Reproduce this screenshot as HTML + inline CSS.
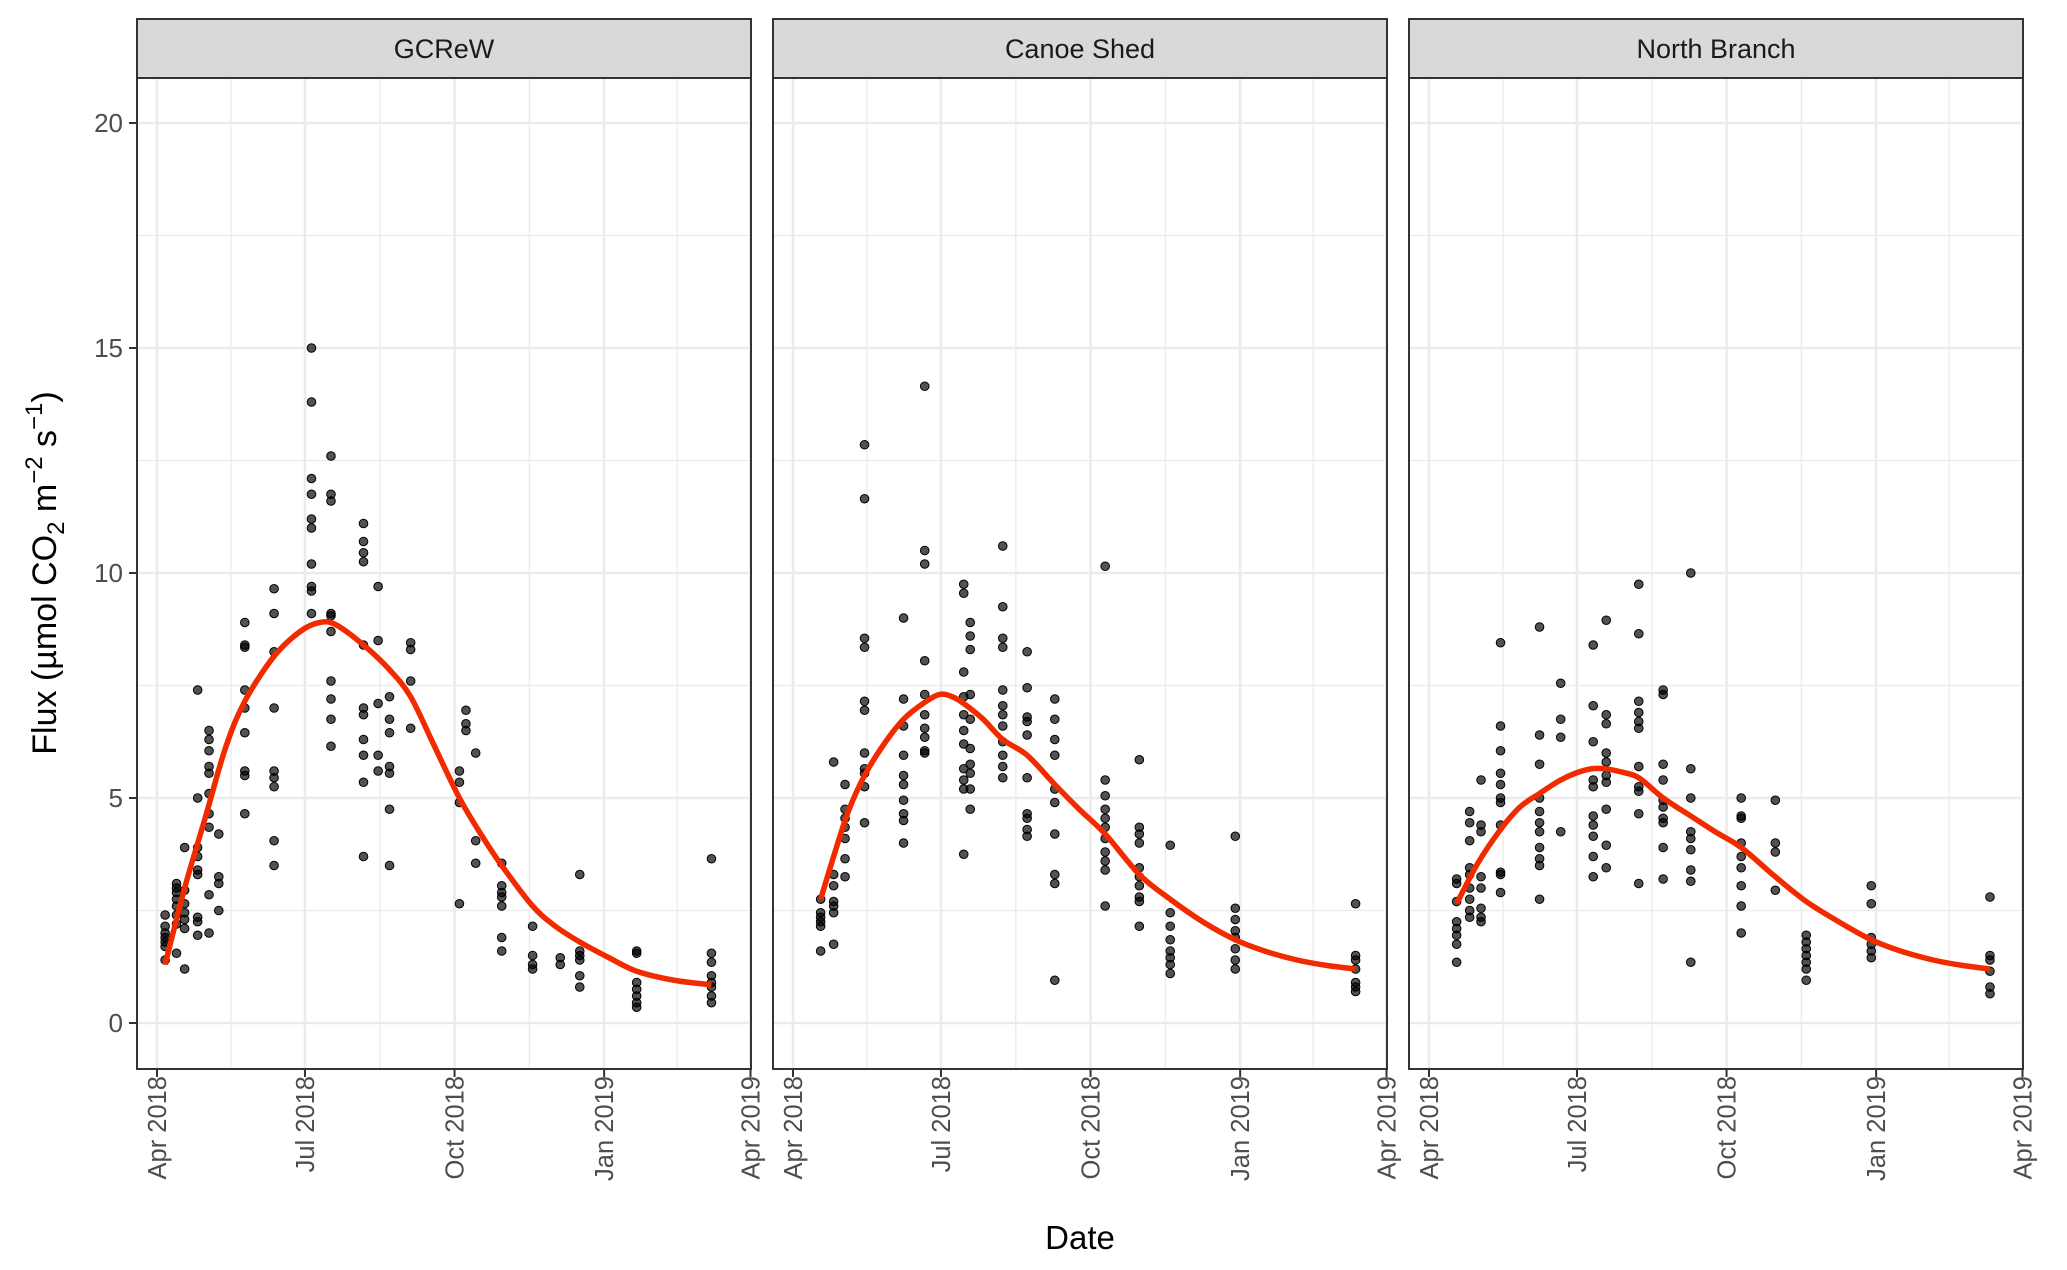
<!DOCTYPE html>
<html><head><meta charset="utf-8"><style>
html,body{margin:0;padding:0;background:#fff;}
svg{display:block;font-family:"Liberation Sans",Arial,sans-serif;}
</style></head><body>
<svg id="chart" width="2067" height="1270" viewBox="0 0 2067 1270" xmlns="http://www.w3.org/2000/svg">
<g id="root"></g>
<text x="1080" y="1249" font-size="33" text-anchor="middle" fill="#000">Date</text>
<text transform="translate(56,573) rotate(-90)" font-size="34" text-anchor="middle" fill="#000">Flux (µmol CO<tspan font-size="24" dy="8">2</tspan><tspan dy="-8"> m</tspan><tspan font-size="24" dy="-14">−2</tspan><tspan dy="14"> s</tspan><tspan font-size="24" dy="-14">−1</tspan><tspan dy="14">)</tspan></text>
</svg>
<script>
const panelNames = ["GCReW", "Canoe Shed", "North Branch"];
const yTicks = [0, 5, 10, 15, 20];
const xTickDays = [0, 91, 183, 275, 365];
const xTickLabels = ["Apr 2018", "Jul 2018", "Oct 2018", "Jan 2019", "Apr 2019"];

// GCReW: sampling days (since Apr 1 2018) and flux values
const p1Days = [5,12,17,25,32,38,54,72,95,107,127,136,143,156,186,190,196,212,231,248,260,295,341];
const p1Vals = [
 [2.4,2.15,2.0,1.9,1.8,1.7,1.4],
 [3.1,3.0,2.9,2.75,2.6,2.4,2.2,1.55],
 [3.9,2.95,2.65,2.45,2.3,2.1,1.2],
 [7.4,5.0,3.9,3.7,3.4,3.3,2.35,2.25,1.95],
 [6.5,6.3,6.05,5.7,5.55,5.1,4.65,4.35,2.85,2.0],
 [4.2,3.25,3.1,2.5],
 [8.9,8.4,8.35,7.4,7.0,6.45,5.6,5.5,4.65],
 [9.65,9.1,8.25,7.0,5.6,5.45,5.25,4.05,3.5],
 [15.0,13.8,12.1,11.75,11.2,11.0,10.2,9.7,9.6,9.1],
 [12.6,11.75,11.6,9.1,9.05,8.7,7.6,7.2,6.75,6.15],
 [11.1,10.7,10.45,10.25,8.4,7.0,6.85,6.3,5.95,5.35,3.7],
 [9.7,8.5,7.1,5.95,5.6],
 [7.25,6.75,6.45,5.7,5.55,4.75,3.5],
 [8.45,8.3,7.6,6.55],
 [5.6,5.35,4.9,2.65],
 [6.95,6.65,6.5],
 [6.0,4.05,3.55],
 [3.55,3.05,2.9,2.8,2.6,1.9,1.6],
 [2.15,1.5,1.3,1.2],
 [1.45,1.3],
 [3.3,1.6,1.5,1.4,1.05,0.8],
 [1.6,1.55,0.9,0.75,0.6,0.45,0.35],
 [3.65,1.55,1.35,1.05,0.9,0.8,0.6,0.45]
];
const p1FitDays = [5,17,30,42,54,72,88,100,110,127,143,156,170,186,200,212,231,245,260,278,295,318,341];
const p1FitVals = [1.3,3.0,4.6,6.1,7.15,8.15,8.7,8.9,8.85,8.4,7.85,7.25,6.2,5.0,4.15,3.5,2.6,2.15,1.8,1.45,1.15,0.95,0.85];

// Canoe Shed
const p2Days = [17,25,32,44,68,81,105,109,129,144,161,192,213,232,272,346];
const p2Vals = [
 [2.75,2.45,2.35,2.25,2.15,1.6],
 [5.8,3.3,3.05,2.7,2.6,2.45,1.75],
 [5.3,4.75,4.55,4.35,4.1,3.65,3.25],
 [12.85,11.65,8.55,8.35,7.15,6.95,6.0,5.65,5.55,5.25,4.45],
 [9.0,7.2,6.6,5.95,5.5,5.3,4.95,4.65,4.5,4.0],
 [14.15,10.5,10.2,8.05,7.3,6.85,6.55,6.35,6.05,6.0],
 [9.75,9.55,7.8,7.25,6.85,6.5,6.2,5.65,5.4,5.2,3.75],
 [8.9,8.6,8.3,7.3,6.75,6.1,5.75,5.55,5.2,4.75],
 [10.6,9.25,8.55,8.35,7.4,7.05,6.85,6.6,6.25,5.95,5.7,5.45],
 [8.25,7.45,6.8,6.7,6.4,5.45,4.65,4.55,4.3,4.15],
 [7.2,6.75,6.3,5.95,5.2,4.9,4.2,3.3,3.1,0.95],
 [10.15,5.4,5.05,4.75,4.55,4.35,4.1,3.8,3.6,3.4,2.6],
 [5.85,4.35,4.2,4.0,3.45,3.25,3.05,2.8,2.7,2.15],
 [3.95,2.45,2.15,1.85,1.6,1.45,1.3,1.1],
 [4.15,2.55,2.3,2.05,1.9,1.65,1.4,1.2],
 [2.65,1.5,1.4,1.2,0.9,0.8,0.7]
];
const p2FitDays = [17,25,34,44,56,68,80,90,98,105,117,129,144,161,176,192,213,232,252,272,290,310,328,346];
const p2FitVals = [2.75,3.7,4.7,5.5,6.2,6.75,7.1,7.3,7.25,7.1,6.75,6.3,5.95,5.3,4.75,4.2,3.3,2.75,2.25,1.85,1.6,1.4,1.28,1.2];

// North Branch
const p3Days = [17,25,32,44,68,81,101,109,129,144,161,192,213,232,272,345];
const p3Vals = [
 [3.2,3.1,2.7,2.25,2.1,1.95,1.75,1.35],
 [4.7,4.45,4.05,3.45,3.3,3.0,2.75,2.5,2.35],
 [5.4,4.4,4.25,3.25,3.0,2.55,2.35,2.25],
 [8.45,6.6,6.05,5.55,5.3,5.0,4.9,4.4,3.35,3.3,2.9],
 [8.8,6.4,5.75,5.0,4.7,4.45,4.25,3.9,3.65,3.5,2.75],
 [7.55,6.75,6.35,4.25],
 [8.4,7.05,6.25,5.4,5.25,4.6,4.4,4.15,3.7,3.25],
 [8.95,6.85,6.65,6.0,5.8,5.5,5.35,4.75,3.95,3.45],
 [9.75,8.65,7.15,6.9,6.7,6.55,5.7,5.25,5.15,4.65,3.1],
 [7.4,7.3,5.75,5.4,4.95,4.8,4.55,4.45,3.9,3.2],
 [10.0,5.65,5.0,4.25,4.1,3.85,3.4,3.15,1.35],
 [5.0,4.6,4.55,4.0,3.7,3.45,3.05,2.6,2.0],
 [4.95,4.0,3.8,2.95],
 [1.95,1.8,1.65,1.5,1.35,1.2,0.95],
 [3.05,2.65,1.9,1.75,1.6,1.45],
 [2.8,1.5,1.4,1.15,0.8,0.65]
];
const p3FitDays = [17,30,44,56,68,80,90,100,108,118,129,144,161,176,192,213,232,252,272,290,310,328,345];
const p3FitVals = [2.65,3.55,4.3,4.8,5.1,5.38,5.55,5.65,5.65,5.58,5.45,5.0,4.6,4.25,3.9,3.25,2.7,2.25,1.85,1.6,1.4,1.28,1.2];

const panelDays = [p1Days, p2Days, p3Days];
const panelVals = [p1Vals, p2Vals, p3Vals];
const fitDays = [p1FitDays, p2FitDays, p3FitDays];
const fitVals = [p1FitVals, p2FitVals, p3FitVals];

const NS = "http://www.w3.org/2000/svg";
const root = document.getElementById("root");
const panelLefts = [137, 773, 1409];
const PW = 614, PT = 78, PB = 1069, ST = 19;
function yScale(v){ return 1023 - 45 * v; }
function xScale(p, d){ return panelLefts[p] + 20 + d * 1.626; }
function mk(tag, attrs, parent){
  const e = document.createElementNS(NS, tag);
  for (const k in attrs) e.setAttribute(k, attrs[k]);
  (parent || root).appendChild(e);
  return e;
}
function smoothPath(pts){
  let d = "M" + pts[0][0] + "," + pts[0][1];
  for (let i = 0; i < pts.length - 1; i++){
    const p0 = pts[Math.max(0, i-1)], p1 = pts[i], p2 = pts[i+1], p3 = pts[Math.min(pts.length-1, i+2)];
    const c1x = p1[0] + (p2[0]-p0[0])/6, c1y = p1[1] + (p2[1]-p0[1])/6;
    const c2x = p2[0] - (p3[0]-p1[0])/6, c2y = p2[1] - (p3[1]-p1[1])/6;
    d += " C" + c1x + "," + c1y + " " + c2x + "," + c2y + " " + p2[0] + "," + p2[1];
  }
  return d;
}

for (let p = 0; p < 3; p++){
  const L = panelLefts[p];
  const g = mk("g", {});
  
  
  mk("rect", {x:L, y:PT, width:PW, height:PB-PT, fill:"#fff"}, g);
  for (let i = 0; i < yTicks.length - 1; i++){
    const y = yScale((yTicks[i]+yTicks[i+1])/2);
    mk("line", {x1:L, x2:L+PW, y1:y, y2:y, stroke:"#ebebeb", "stroke-width":1.3}, g);
  }
  for (let i = 0; i < xTickDays.length - 1; i++){
    const x = xScale(p, (xTickDays[i]+xTickDays[i+1])/2);
    mk("line", {x1:x, x2:x, y1:PT, y2:PB, stroke:"#ebebeb", "stroke-width":1.3}, g);
  }
  yTicks.forEach(v => { const y = yScale(v); mk("line", {x1:L, x2:L+PW, y1:y, y2:y, stroke:"#ebebeb", "stroke-width":2.6}, g); });
  xTickDays.forEach(d => { const x = xScale(p, d); mk("line", {x1:x, x2:x, y1:PT, y2:PB, stroke:"#ebebeb", "stroke-width":2.6}, g); });
  panelDays[p].forEach((d, i) => {
    panelVals[p][i].forEach(v => {
      const c = mk("circle", {cx:xScale(p, d), cy:yScale(v), r:4.3, fill:"rgba(0,0,0,0.68)", stroke:"#000", "stroke-width":1}, g);
      
      
    });
  });
  const pts = fitDays[p].map((d, i) => [xScale(p, d), yScale(fitVals[p][i])]);
  const fl = mk("path", {d:smoothPath(pts), fill:"none", stroke:"#f22a00", "stroke-width":5.5, "stroke-linecap":"butt"}, g);
  
  
  mk("rect", {x:L, y:PT, width:PW, height:PB-PT, fill:"none", stroke:"#333", "stroke-width":2}, g);
  const st = mk("rect", {x:L, y:ST, width:PW, height:PT-ST, fill:"#d9d9d9", stroke:"#333", "stroke-width":2}, g);
  
  
  const stt = mk("text", {x:L+PW/2, y:(ST+PT)/2, "font-size":27, "text-anchor":"middle", dy:"0.35em", fill:"#1a1a1a"}, g);
  stt.textContent = panelNames[p];
  
  
  xTickDays.forEach((d, i) => {
    const x = xScale(p, d);
    mk("line", {x1:x, x2:x, y1:PB, y2:PB+8, stroke:"#333", "stroke-width":2}, g);
    const t = mk("text", {transform:"translate(" + x + "," + (PB+7) + ") rotate(-90)", "font-size":25.5, "text-anchor":"end", dy:"0.35em", fill:"#4d4d4d"}, g);
    t.textContent = xTickLabels[i];
    
    
  });
}
yTicks.forEach(v => {
  const y = yScale(v);
  mk("line", {x1:129, x2:137, y1:y, y2:y, stroke:"#333", "stroke-width":2});
  const t = mk("text", {x:123, y:y, "font-size":26, "text-anchor":"end", dy:"0.35em", fill:"#4d4d4d"});
  t.textContent = v;
  
  
});
</script>
</body></html>
